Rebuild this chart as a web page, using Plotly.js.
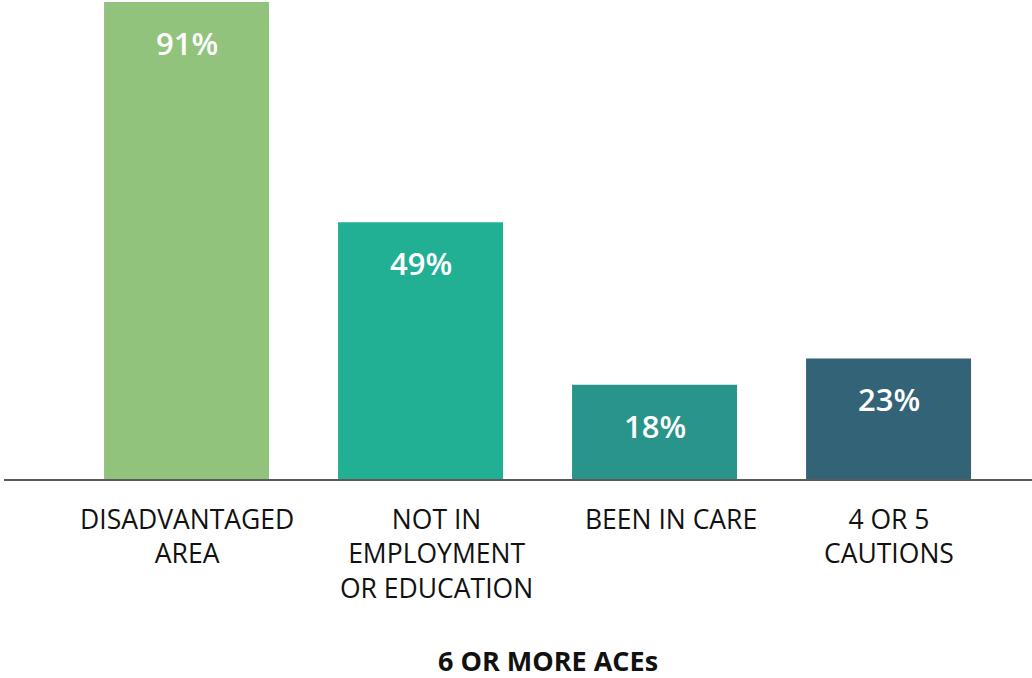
<!DOCTYPE html>
<html>
<head>
<meta charset="utf-8">
<script src="https://cdn.plot.ly/plotly-3.0.1.min.js"></script>
<style>
html,body{margin:0;padding:0;background:#fff;}
#chart{width:1032px;height:678px;}
</style>
</head>
<body>
<div id="chart"></div>
<script>
const categories = ["DISADVANTAGED<br>AREA", "NOT IN<br>EMPLOYMENT<br>OR EDUCATION", "BEEN IN CARE", "4 OR 5<br>CAUTIONS"];
const values = [91, 49, 18, 23];
const valueLabels = ["91%", "49%", "18%", "23%"];
const barColors = ["#91C37D", "#21B094", "#28948A", "#336376"];
const axisTitle = "6 OR MORE ACEs";

// style only: horizontal nudge of each category label (px)
const labelNudge = [0, 16, 16, 0];

const FONT = "'Open Sans', 'Noto Sans', sans-serif";

const trace = {
  type: "bar",
  x: categories,
  y: values,
  width: 0.705,
  marker: {color: barColors, line: {width: 0}},
  hoverinfo: "skip"
};

const annotations = categories.map((c, i) => ({
  x: c, y: values[i], xref: "x", yref: "y",
  text: valueLabels[i], showarrow: false,
  yanchor: "middle", yshift: -41,
  font: {family: FONT, size: 31, color: "#ffffff", weight: 600}
}));

categories.forEach((c, i) => annotations.push({
  x: c, y: 0, xref: "x", yref: "paper",
  text: c, showarrow: false,
  xanchor: "center", yanchor: "top", yshift: -20, xshift: labelNudge[i],
  align: "center",
  font: {family: FONT, size: 26.5, color: "#111111"}
}));

annotations.push({
  x: 0.529, y: 0, xref: "paper", yref: "paper",
  yanchor: "middle", yshift: -181,
  text: "<b>" + axisTitle + "</b>", showarrow: false,
  font: {family: FONT, size: 27, color: "#111111"}
});

const layout = {
  width: 1032, height: 678,
  margin: {l: 4, r: 0, t: 0, b: 199, pad: 0},
  paper_bgcolor: "#ffffff", plot_bgcolor: "#ffffff",
  showlegend: false,
  bargap: 0.3,
  xaxis: {
    type: "category",
    range: [-0.78, 3.613],
    showline: true, linecolor: "#5a5a5a", linewidth: 1.5,
    ticks: "", showgrid: false, zeroline: false,
    showticklabels: false,
    fixedrange: true
  },
  yaxis: {
    range: [0, 91.4],
    visible: false, showgrid: false, zeroline: false, fixedrange: true
  },
  annotations: annotations
};

Plotly.newPlot("chart", [trace], layout, {displayModeBar: false, staticPlot: true});
</script>
</body>
</html>
